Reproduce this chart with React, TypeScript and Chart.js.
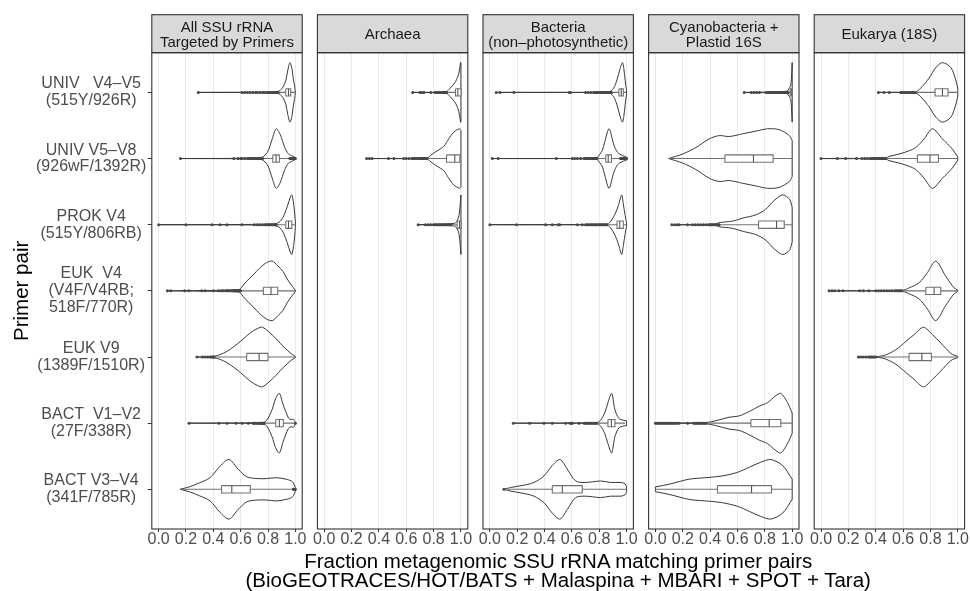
import React, { useEffect, useRef } from "react";
import { Chart, registerables } from "chart.js";

Chart.register(...registerables);

const FONT = "'Liberation Sans', Arimo, Arial, Helvetica, sans-serif";
Chart.defaults.font.family = FONT;

// ---------------- data ----------------
const primerPairs: string[][] = [
  ["UNIV   V4–V5", "(515Y/926R)"],
  ["UNIV V5–V8", "(926wF/1392R)"],
  ["PROK V4", "(515Y/806RB)"],
  ["EUK  V4", "(V4F/V4RB;", "518F/770R)"],
  ["EUK V9", "(1389F/1510R)"],
  ["BACT  V1–V2", "(27F/338R)"],
  ["BACT V3–V4", "(341F/785R)"],
];
const xTickValues = [0, 0.2, 0.4, 0.6, 0.8, 1.0];
const facetTitles: string[][] = [
  ["All SSU rRNA", "Targeted by Primers"],
  ["Archaea"],
  ["Bacteria", "(non–photosynthetic)"],
  ["Cyanobacteria +", "Plastid 16S"],
  ["Eukarya (18S)"],
];
const yTitle = "Primer pair";
const xTitleLines = [
  "Fraction metagenomic SSU rRNA matching primer pairs",
  "(BioGEOTRACES/HOT/BATS + Malaspina + MBARI + SPOT + Tara)",
];

// rows present in each facet (index into primerPairs)
const allRows = [0, 1, 2, 3, 4, 5, 6];
const archaeaRows = [0, 1, 2];
const bacteriaRows = [0, 1, 2, 5, 6];
const cyanoRows = [0, 1, 2, 5, 6];
const eukRows = [0, 1, 3, 4];

// box stats: [lower whisker, q1, median, q3, upper whisker]
const allBoxes = [
  [0.88, 0.93, 0.95, 0.966, 1.0],
  [0.765, 0.835, 0.859, 0.883, 0.955],
  [0.865, 0.93, 0.95, 0.974, 1.0],
  [0.61, 0.766, 0.822, 0.871, 1.0],
  [0.41, 0.644, 0.735, 0.8, 1.0],
  [0.775, 0.857, 0.883, 0.912, 0.99],
  [0.157, 0.46, 0.535, 0.67, 0.98],
];
const archaeaBoxes = [
  [0.9, 0.96, 0.977, 1.0, 1.0],
  [0.75, 0.894, 0.955, 0.992, 1.0],
  [0.93, 0.972, 0.99, 1.0, 1.0],
];
const bacteriaBoxes = [
  [0.896, 0.944, 0.961, 0.976, 1.0],
  [0.79, 0.848, 0.866, 0.889, 0.95],
  [0.862, 0.93, 0.95, 0.976, 1.0],
  [0.79, 0.864, 0.889, 0.915, 0.99],
  [0.13, 0.457, 0.53, 0.676, 1.0],
];
const cyanoBoxes = [
  [0.975, 0.985, 0.993, 1.0, 1.0],
  [0.096, 0.508, 0.717, 0.861, 1.0],
  [0.47, 0.754, 0.886, 0.942, 1.0],
  [0.375, 0.698, 0.832, 0.917, 1.0],
  [0.0, 0.454, 0.703, 0.849, 1.0],
];
const eukBoxes = [
  [0.69, 0.834, 0.888, 0.929, 1.0],
  [0.475, 0.705, 0.797, 0.859, 1.0],
  [0.6, 0.766, 0.827, 0.876, 1.0],
  [0.41, 0.644, 0.737, 0.807, 1.0],
];

// outliers
const allOutliers = [
  [0.29, 0.61, 0.63, 0.65, 0.67, 0.69, 0.71, 0.72, 0.74, 0.76, 0.77, 0.79, 0.8, 0.81, 0.82, 0.83, 0.84, 0.85, 0.86, 0.865, 0.87, 0.875],
  [0.16, 0.55, 0.58, 0.6, 0.61, 0.63, 0.65, 0.66, 0.67, 0.68, 0.69, 0.7, 0.71, 0.72, 0.73, 0.74, 0.745, 0.75, 0.755, 0.76, 0.96, 0.965, 0.97, 0.975, 0.98, 0.985, 0.99, 0.995, 1.0],
  [0.0, 0.2, 0.39, 0.45, 0.5, 0.61, 0.7, 0.72, 0.74, 0.76, 0.78, 0.79, 0.8, 0.81, 0.82, 0.83, 0.84, 0.85, 0.855, 0.86],
  [0.064, 0.088, 0.19, 0.22, 0.315, 0.34, 0.4, 0.44, 0.46, 0.47, 0.49, 0.5, 0.51, 0.52, 0.53, 0.54, 0.545, 0.55, 0.555, 0.56, 0.565, 0.57, 0.575, 0.58, 0.585, 0.59, 0.595, 0.6],
  [0.28, 0.32, 0.34, 0.36, 0.38, 0.39, 0.4, 0.405],
  [0.222, 0.44, 0.5, 0.566, 0.61, 0.656, 0.69, 0.7, 0.71, 0.72, 0.73, 0.74, 0.745, 0.75, 0.755, 0.76, 0.765, 0.77, 1.0],
  [0.985, 0.99, 0.995, 1.0],
];
const archaeaOutliers = [
  [0.647, 0.7, 0.715, 0.73, 0.78, 0.81, 0.82, 0.83, 0.84, 0.85, 0.86, 0.87, 0.875, 0.88, 0.885, 0.89, 0.895],
  [0.31, 0.33, 0.35, 0.47, 0.51, 0.58, 0.6, 0.62, 0.64, 0.65, 0.66, 0.67, 0.68, 0.69, 0.7, 0.71, 0.72, 0.725, 0.73, 0.735, 0.74, 0.745],
  [0.687, 0.74, 0.76, 0.78, 0.8, 0.81, 0.82, 0.83, 0.84, 0.85, 0.86, 0.87, 0.88, 0.89, 0.9, 0.91, 0.92, 0.925],
];
const bacteriaOutliers = [
  [0.047, 0.074, 0.176, 0.58, 0.59, 0.7, 0.72, 0.74, 0.76, 0.77, 0.78, 0.79, 0.8, 0.81, 0.82, 0.83, 0.84, 0.85, 0.86, 0.87, 0.88, 0.89],
  [0.018, 0.061, 0.486, 0.603, 0.62, 0.64, 0.664, 0.69, 0.7, 0.71, 0.72, 0.73, 0.74, 0.75, 0.76, 0.77, 0.775, 0.78, 0.785, 0.955, 0.96, 0.965, 0.97, 0.975, 0.98, 0.985, 0.99, 0.995, 1.0],
  [0.0, 0.195, 0.408, 0.457, 0.5, 0.51, 0.64, 0.676, 0.7, 0.71, 0.72, 0.73, 0.74, 0.75, 0.76, 0.77, 0.78, 0.79, 0.8, 0.81, 0.82, 0.83, 0.84, 0.85, 0.855],
  [0.172, 0.291, 0.396, 0.457, 0.554, 0.586, 0.595, 0.603, 0.652, 0.69, 0.7, 0.71, 0.72, 0.73, 0.74, 0.75, 0.76, 0.77, 0.78],
  [0.103],
];
const cyanoOutliers = [
  [0.649, 0.7, 0.72, 0.74, 0.76, 0.81, 0.82, 0.83, 0.84, 0.85, 0.86, 0.87, 0.88, 0.89, 0.9, 0.91, 0.92, 0.93, 0.94, 0.95, 0.96, 0.965, 0.97],
  [],
  [0.12, 0.14, 0.16, 0.174, 0.235, 0.27, 0.29, 0.31, 0.33, 0.35, 0.37, 0.39, 0.4, 0.41, 0.42, 0.43, 0.44, 0.45, 0.46, 0.465],
  [0.0, 0.01, 0.02, 0.03, 0.04, 0.05, 0.06, 0.07, 0.08, 0.09, 0.1, 0.11, 0.12, 0.13, 0.14, 0.15, 0.16, 0.174, 0.235, 0.28, 0.29, 0.3, 0.31, 0.32, 0.33, 0.34, 0.35, 0.36, 0.37],
  [],
];
const eukOutliers = [
  [0.42, 0.46, 0.5, 0.583, 0.59, 0.6, 0.61, 0.62, 0.63, 0.64, 0.65, 0.66, 0.67, 0.68, 0.685],
  [0.0, 0.12, 0.18, 0.26, 0.3, 0.32, 0.34, 0.36, 0.37, 0.38, 0.39, 0.4, 0.41, 0.42, 0.43, 0.44, 0.45, 0.46, 0.47],
  [0.059, 0.08, 0.1, 0.13, 0.16, 0.283, 0.31, 0.35, 0.4, 0.42, 0.44, 0.46, 0.48, 0.5, 0.52, 0.54, 0.55, 0.56, 0.57, 0.58, 0.59],
  [0.273, 0.29, 0.31, 0.33, 0.35, 0.36, 0.37, 0.38, 0.39, 0.4],
];

// violin profiles: [value, relative width (1 = widest)]
const allViolins = [
  [[0.28, 0], [0.86, 0.02], [0.89, 0.08], [0.91, 0.18], [0.93, 0.4], [0.945, 0.75], [0.96, 1], [0.975, 0.8], [0.985, 0.45], [0.995, 0.2], [1.0, 0]],
  [[0.16, 0], [0.74, 0.02], [0.77, 0.08], [0.8, 0.25], [0.83, 0.65], [0.86, 1], [0.89, 0.8], [0.92, 0.4], [0.95, 0.15], [0.98, 0.08], [1.0, 0.03]],
  [[0.0, 0], [0.84, 0.02], [0.88, 0.08], [0.91, 0.25], [0.94, 0.6], [0.965, 0.95], [0.975, 1], [0.99, 0.6], [1.0, 0.1]],
  [[0.064, 0], [0.58, 0.03], [0.6, 0.08], [0.62, 0.2], [0.66, 0.4], [0.69, 0.53], [0.74, 0.77], [0.79, 0.95], [0.83, 1], [0.87, 0.85], [0.91, 0.65], [0.94, 0.4], [0.97, 0.2], [1.0, 0.02]],
  [[0.28, 0], [0.41, 0.03], [0.45, 0.08], [0.5, 0.19], [0.55, 0.35], [0.6, 0.53], [0.67, 0.81], [0.72, 0.95], [0.76, 1], [0.84, 0.7], [0.91, 0.36], [0.97, 0.11], [1.0, 0.02]],
  [[0.222, 0], [0.76, 0.02], [0.79, 0.09], [0.83, 0.46], [0.855, 0.82], [0.883, 1], [0.91, 0.63], [0.95, 0.17], [0.97, 0.12], [0.985, 0.14], [1.0, 0.03]],
  [[0.157, 0], [0.23, 0.09], [0.3, 0.22], [0.376, 0.39], [0.45, 0.78], [0.515, 1], [0.583, 0.67], [0.645, 0.42], [0.72, 0.36], [0.79, 0.36], [0.864, 0.39], [0.94, 0.33], [0.98, 0.25], [1.0, 0.06]],
];
const archaeaViolins = [
  [[0.647, 0], [0.89, 0.02], [0.92, 0.14], [0.96, 0.36], [0.985, 0.65], [0.997, 1], [1.0, 1]],
  [[0.31, 0], [0.75, 0.02], [0.79, 0.15], [0.826, 0.26], [0.875, 0.41], [0.91, 0.66], [0.948, 0.89], [0.99, 1], [1.0, 0.95]],
  [[0.687, 0], [0.95, 0.04], [0.97, 0.12], [0.985, 0.3], [0.995, 0.7], [1.0, 1]],
];
const bacteriaViolins = [
  [[0.047, 0], [0.87, 0.02], [0.905, 0.14], [0.93, 0.42], [0.95, 0.76], [0.97, 1], [0.98, 0.8], [0.99, 0.4], [1.0, 0.05]],
  [[0.018, 0], [0.78, 0.02], [0.8, 0.12], [0.822, 0.26], [0.84, 0.55], [0.872, 1], [0.905, 0.49], [0.935, 0.2], [0.97, 0.1], [1.0, 0.05]],
  [[0.0, 0], [0.86, 0.02], [0.885, 0.12], [0.915, 0.35], [0.94, 0.64], [0.964, 1], [0.976, 0.7], [0.99, 0.3], [1.0, 0.05]],
  [[0.172, 0], [0.78, 0.02], [0.81, 0.1], [0.84, 0.34], [0.864, 0.69], [0.891, 1], [0.915, 0.45], [0.944, 0.16], [0.976, 0.1], [1.0, 0.08]],
  [[0.103, 0], [0.152, 0.06], [0.25, 0.14], [0.323, 0.23], [0.396, 0.45], [0.457, 0.8], [0.513, 1], [0.566, 0.68], [0.627, 0.28], [0.69, 0.23], [0.75, 0.25], [0.81, 0.28], [0.884, 0.23], [0.96, 0.23], [0.99, 0.18], [1.0, 0.08]],
];
const cyanoViolins = [
  [[0.649, 0], [0.96, 0.04], [0.98, 0.15], [0.99, 0.25], [0.997, 0.7], [1.0, 1]],
  [[0.096, 0], [0.198, 0.15], [0.296, 0.37], [0.393, 0.66], [0.466, 0.77], [0.54, 0.74], [0.637, 0.83], [0.734, 0.92], [0.82, 1], [0.905, 0.97], [0.98, 0.77], [1.0, 0.6]],
  [[0.12, 0], [0.44, 0.02], [0.466, 0.07], [0.564, 0.12], [0.637, 0.22], [0.734, 0.33], [0.807, 0.52], [0.868, 0.81], [0.93, 1], [0.98, 0.86], [1.0, 0.58]],
  [[0.0, 0], [0.37, 0.02], [0.44, 0.08], [0.54, 0.2], [0.61, 0.24], [0.686, 0.39], [0.759, 0.57], [0.82, 0.69], [0.88, 0.92], [0.917, 1], [0.966, 0.69], [1.0, 0.34]],
  [[0.0, 0.08], [0.1, 0.17], [0.247, 0.34], [0.393, 0.4], [0.49, 0.45], [0.6, 0.57], [0.686, 0.74], [0.77, 0.91], [0.844, 1], [0.93, 0.8], [1.0, 0.34]],
];
const eukViolins = [
  [[0.42, 0], [0.69, 0.02], [0.74, 0.2], [0.79, 0.48], [0.839, 0.83], [0.888, 1], [0.95, 0.83], [0.985, 0.42], [1.0, 0.14]],
  [[0.0, 0], [0.473, 0.02], [0.497, 0.07], [0.57, 0.15], [0.644, 0.26], [0.693, 0.37], [0.754, 0.66], [0.815, 1], [0.888, 0.66], [0.96, 0.32], [1.0, 0.05]],
  [[0.059, 0], [0.595, 0.02], [0.644, 0.1], [0.717, 0.27], [0.778, 0.61], [0.839, 1], [0.912, 0.49], [0.973, 0.1], [1.0, 0.02]],
  [[0.273, 0], [0.424, 0.02], [0.473, 0.07], [0.546, 0.24], [0.62, 0.52], [0.68, 0.75], [0.749, 1], [0.815, 0.75], [0.876, 0.47], [0.95, 0.12], [1.0, 0.02]],
];

// ---------------- layout & style ----------------
const PANEL_LEFT0 = 151.8;
const PANEL_STEP = 165.6;
const PANEL_W = 150.4;
const STRIP_TOP = 14.7;
const PLOT_TOP = 52.7;
const PLOT_BOTTOM = 529;
const CANVAS_H = 560;
const X_AXIS_H = 24;
const HALF_VIOLIN = 0.45;
const BOX_HALF = 0.055;

const FRAME_COLOR = "#333333";
const STRIP_FILL = "#D9D9D9";
const STRIP_TEXT = "#1A1A1A";
const GRID_COLOR = "#EBEBEB";
const TICK_TEXT = "#4D4D4D";
const VIOLIN_COLOR = "#383838";
const BOX_COLOR = "#707070";
const OUT_COLOR = "#474747";

interface FacetSpec {
  title: string[];
  rows: number[];
  boxes: number[][];
  violins: number[][][];
  outliers: number[][];
}

const facets: FacetSpec[] = [
  { title: facetTitles[0], rows: allRows, boxes: allBoxes, violins: allViolins, outliers: allOutliers },
  { title: facetTitles[1], rows: archaeaRows, boxes: archaeaBoxes, violins: archaeaViolins, outliers: archaeaOutliers },
  { title: facetTitles[2], rows: bacteriaRows, boxes: bacteriaBoxes, violins: bacteriaViolins, outliers: bacteriaOutliers },
  { title: facetTitles[3], rows: cyanoRows, boxes: cyanoBoxes, violins: cyanoViolins, outliers: cyanoOutliers },
  { title: facetTitles[4], rows: eukRows, boxes: eukBoxes, violins: eukViolins, outliers: eukOutliers },
];

function Facet({ spec, index }: { spec: FacetSpec; index: number }) {
  const ref = useRef<HTMLCanvasElement>(null);
  const L = PANEL_LEFT0 + PANEL_STEP * index;
  const R = L + PANEL_W;
  const first = index === 0;
  const divLeft = first ? 0 : Math.floor(L) - 8;
  const divRight = Math.ceil(R) + 8;
  const divWidth = divRight - divLeft;
  const padL = first ? 0 : L - divLeft;
  const padR = divRight - R;

  useEffect(() => {
    if (!ref.current) return;
    const lineStyle = {
      showLine: true,
      borderColor: BOX_COLOR,
      borderWidth: 1.1,
      pointRadius: 0,
      tension: 0,
      fill: false,
    };
    const datasets: any[] = [];
    spec.rows.forEach((r, k) => {
      const yc = r + 1;
      const prof = spec.violins[k];
      const upper = prof.map(([x, w]) => ({ x, y: yc - HALF_VIOLIN * w }));
      const lower = prof
        .slice()
        .reverse()
        .map(([x, w]) => ({ x, y: yc + HALF_VIOLIN * w }));
      const n = upper.length;
      const outline = [...upper, upper[n - 1], lower[0], ...lower, lower[n - 1], upper[0]];
      datasets.push({
        data: outline,
        showLine: true,
        fill: false,
        borderColor: VIOLIN_COLOR,
        borderWidth: 1,
        pointRadius: 0,
        tension: 0.3,
        order: 5,
      });
      const [lo, q1, med, q3, hi] = spec.boxes[k];
      datasets.push({ ...lineStyle, data: [{ x: lo, y: yc }, { x: q1, y: yc }], order: 3 });
      datasets.push({ ...lineStyle, data: [{ x: q3, y: yc }, { x: hi, y: yc }], order: 3 });
      datasets.push({
        ...lineStyle,
        data: [
          { x: q1, y: yc - BOX_HALF },
          { x: q3, y: yc - BOX_HALF },
          { x: q3, y: yc + BOX_HALF },
          { x: q1, y: yc + BOX_HALF },
          { x: q1, y: yc - BOX_HALF },
        ],
        fill: "shape",
        backgroundColor: "#ffffff",
        order: 2,
      });
      datasets.push({
        ...lineStyle,
        data: [{ x: med, y: yc - BOX_HALF }, { x: med, y: yc + BOX_HALF }],
        borderColor: "#555555",
        order: 1,
      });
      datasets.push({
        data: spec.outliers[k].map((x) => ({ x, y: yc })),
        showLine: false,
        pointRadius: 1.5,
        pointBackgroundColor: OUT_COLOR,
        pointBorderWidth: 0,
        order: 0,
      });
    });

    const framePlugin = {
      id: "facetFrame",
      afterDraw(chart: any) {
        const { ctx, chartArea: a } = chart;
        ctx.save();
        ctx.fillStyle = STRIP_FILL;
        ctx.fillRect(a.left, STRIP_TOP, a.right - a.left, a.top - STRIP_TOP);
        ctx.strokeStyle = FRAME_COLOR;
        ctx.lineWidth = 1.1;
        ctx.strokeRect(a.left, STRIP_TOP, a.right - a.left, a.top - STRIP_TOP);
        ctx.strokeRect(a.left, a.top, a.right - a.left, a.bottom - a.top);
        ctx.fillStyle = STRIP_TEXT;
        ctx.font = `15px ${FONT}`;
        ctx.textAlign = "center";
        ctx.textBaseline = "middle";
        const cx = (a.left + a.right) / 2;
        const lh = 15.7;
        const cy = 35.3;
        spec.title.forEach((t, i) => {
          ctx.fillText(t, cx, cy + (i - (spec.title.length - 1) / 2) * lh);
        });
        ctx.restore();
      },
    };

    const chart = new Chart(ref.current, {
      type: "line",
      data: { datasets },
      plugins: [framePlugin],
      options: {
        responsive: true,
        maintainAspectRatio: false,
        animation: false,
        events: [],
        layout: {
          padding: { left: padL, right: padR, top: PLOT_TOP, bottom: CANVAS_H - PLOT_BOTTOM - X_AXIS_H },
        },
        plugins: {
          legend: { display: false },
          tooltip: { enabled: false },
          title: { display: false },
        },
        scales: {
          x: {
            type: "linear",
            min: -0.05,
            max: 1.05,
            afterBuildTicks: (s: any) => {
              s.ticks = xTickValues.map((v) => ({ value: v }));
            },
            afterFit: (s: any) => {
              s.height = X_AXIS_H;
            },
            grid: { color: GRID_COLOR, lineWidth: 1, tickColor: FRAME_COLOR, tickLength: 3, drawTicks: true },
            border: { display: false },
            ticks: {
              color: TICK_TEXT,
              font: { size: 16, family: FONT, lineHeight: 1 },
              padding: 0,
              maxRotation: 0,
              autoSkip: false,
              callback: (v: any) => Number(v).toFixed(1),
            },
          },
          y: {
            type: "linear",
            reverse: true,
            min: 0.4,
            max: 7.6,
            display: first,
            afterBuildTicks: (s: any) => {
              s.ticks = primerPairs.map((_, i) => ({ value: i + 1 }));
            },
            afterFit: (s: any) => {
              s.width = first ? PANEL_LEFT0 : 0;
            },
            grid: { drawOnChartArea: false, drawTicks: true, tickLength: 4, tickColor: FRAME_COLOR },
            border: { display: false },
            ticks: {
              crossAlign: "center",
              color: TICK_TEXT,
              font: { size: 16, family: FONT, lineHeight: 1.05 },
              padding: 1.5,
              autoSkip: false,
              callback: (v: any) => primerPairs[Math.round(v) - 1] || "",
            },
            title: {
              display: true,
              text: yTitle,
              color: "#000000",
              font: { size: 20.5, family: FONT, lineHeight: 1 },
              padding: { top: 11.75, bottom: 0 },
            },
          },
        },
      } as any,
    });
    return () => chart.destroy();
  }, [spec, index]);

  return (
    <div style={{ position: "absolute", left: divLeft, top: 0, width: divWidth, height: CANVAS_H }}>
      <canvas ref={ref} style={{ display: "block" }} />
    </div>
  );
}

export default function App() {
  const titleLeft = PANEL_LEFT0;
  const titleWidth = PANEL_STEP * 4 + PANEL_W;
  return (
    <div
      style={{
        position: "absolute",
        left: 0,
        top: 0,
        width: 970,
        height: 591,
        background: "#ffffff",
        overflow: "hidden",
        fontFamily: FONT,
      }}
    >
      {facets.map((f, i) => (
        <Facet key={i} spec={f} index={i} />
      ))}
      <div
        style={{
          position: "absolute",
          left: titleLeft,
          width: titleWidth,
          top: 550.8,
          fontSize: 20.5,
          lineHeight: "19px",
          textAlign: "center",
          color: "#000000",
          whiteSpace: "nowrap",
        }}
      >
        {xTitleLines[0]}
        <br />
        {xTitleLines[1]}
      </div>
    </div>
  );
}
